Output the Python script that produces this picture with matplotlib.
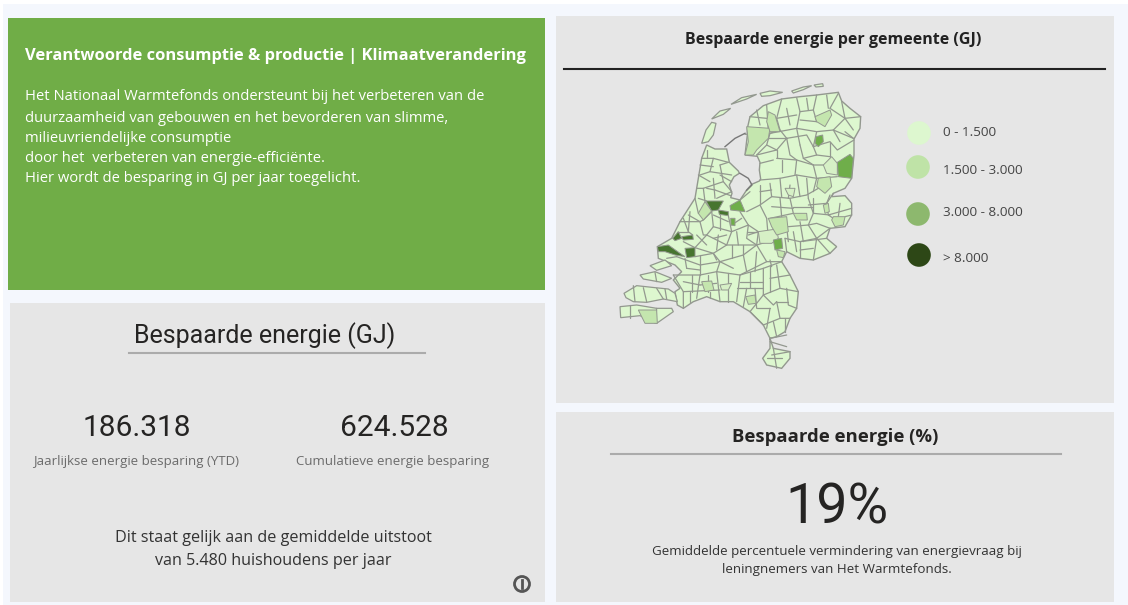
# dashboard energiebesparing - panels plus kaart per gemeente
import matplotlib
matplotlib.use("Agg")
import matplotlib.pyplot as plt
from matplotlib.patches import Polygon, Rectangle, Circle

# --- Kleuren ---
BG = "#F4F7FD"
PANEL = "#E6E6E6"
GREEN = "#70AD47"
CLASS_COLORS = ["#DDF7CF", "#BFE3A7", "#8DB86E", "#2D4716"]
MAP_MID = "#6FAE4A"
MAP_DARK = "#47752F"
MAP_SOFT = "#C4E6AE"
MAP_PALE = "#D6F0C6"
EDGE = "#93988F"

# --- Teksten en waarden ---
head_title = "Verantwoorde consumptie & productie | Klimaatverandering"
head_lines = [
    "Het Nationaal Warmtefonds ondersteunt bij het verbeteren van de",
    "duurzaamheid van gebouwen en het bevorderen van slimme,",
    "milieuvriendelijke consumptie",
    "door het  verbeteren van energie-efficiënte.",
    "Hier wordt de besparing in GJ per jaar toegelicht.",
]
kpi_values = ["186.318", "624.528"]
kpi_labels = ["Jaarlijkse energie besparing (YTD)", "Cumulatieve energie besparing"]
household_lines = ["Dit staat gelijk aan de gemiddelde uitstoot", "van 5.480 huishoudens per jaar"]
percent_value = "19%"
percent_lines = ["Gemiddelde percentuele vermindering van energievraag bij", "leningnemers van Het Warmtefonds."]
class_labels = ["0 - 1.500", "1.500 - 3.000", "3.000 - 8.000", "> 8.000"]

# --- Kaart: omtrek, eilanden, gekleurde gemeenten, grenzen ---
mainland = [
    (320,210),(345,222),(380,222),(388,262),(415,288),(418,295),(402,305),(388,330),(396,355),(392,368),
    (420,375),(440,345),(455,328),(478,318),(482,312),(478,285),(480,262),(472,244),(435,240),
    (442,180),(442,160),(450,125),(490,92),(545,72),(600,65),(650,60),(715,52),(725,78),
    (750,100),(782,125),(780,160),(762,192),(762,240),(755,310),(735,340),(700,355),(695,365),(735,362),
    (755,385),(755,420),(735,455),(690,460),(680,490),(710,515),(690,535),(640,555),(600,550),(560,530),
    (545,560),(570,600),(595,650),(590,700),(570,730),(555,770),(530,785),(510,790),(520,820),(570,830),
    (570,850),(545,880),(500,870),(488,850),(510,820),(510,790),(490,750),(450,710),(400,680),(360,680),
    (320,665),(280,680),(250,700),(232,690),(225,650),(240,640),(220,615),(245,590),(225,570),(175,550),
    (172,515),(215,490),(240,440),(285,370),(295,310),(305,250),
]
islands = [
    [(305,205),(318,165),(335,142),(348,145),(340,180),(325,200)],
    [(335,132),(360,108),(392,100),(370,118)],
    [(393,88),(425,68),(470,58),(440,72)],
    [(480,55),(510,48),(548,52),(510,62),(485,64)],
    [(575,48),(610,36),(635,32),(610,44),(580,54)],
    [(642,30),(668,26),(670,34),(648,36)],
    [(60,695),(110,690),(170,700),(215,700),(220,710),(170,745),(120,722),(62,728)],
    [(72,655),(110,632),(165,638),(205,642),(225,655),(232,680),(190,672),(140,682),(100,680),(78,668)],
    [(120,600),(165,590),(215,610),(185,622),(130,612)],
    [(150,572),(195,555),(215,572),(170,586)],
]
afsluitdijk = [(375,215),(405,190),(435,175)]
houtribdijk = [(420,295),(445,310),(456,330),(440,346)]

pale_munis = [[(670,270),(695,245),(712,265),(712,300),(680,295)],
              [(475,470),(530,462),(535,490),(515,505),(480,505)],
              [(555,340),(585,340),(580,365),(565,360)],
              [(360,630),(395,625),(385,645),(365,645)]]
soft_munis = [[(440,155),(510,160),(505,190),(470,225),(460,240),(435,240),(445,200)],
              [(505,110),(525,120),(540,170),(510,170),(500,140)],
              [(645,125),(690,105),(695,120),(675,155),(650,140)],
              [(655,310),(690,305),(695,335),(675,355),(650,335)],
              [(580,415),(620,415),(622,435),(590,435)],
              [(670,390),(685,385),(688,410),(675,415)],
              [(700,425),(735,425),(730,450),(705,455),(695,435)],
              [(505,430),(560,425),(565,470),(530,480),(515,455)],
              [(530,525),(555,530),(550,548),(535,545)],
              [(305,620),(335,618),(342,645),(315,650)],
              [(437,665),(465,660),(468,685),(445,688)],
              [(115,705),(170,705),(172,745),(135,745)],
              [(295,415),(315,380),(335,408),(310,435)]]
mid_munis = [[(712,262),(750,238),(760,250),(755,310),(715,305)],
             [(648,185),(668,180),(670,200),(655,215),(645,205)],
             [(520,495),(545,490),(548,520),(525,525)],
             [(390,392),(420,375),(435,410),(392,405)],
             [(392,430),(405,430),(405,452),(393,450)]]
dark_munis = [[(318,378),(370,378),(355,405),(335,408)],
              [(355,405),(385,410),(385,422),(358,418)],
              [(218,490),(235,470),(245,490),(225,497)],
              [(245,485),(278,480),(280,493),(250,495)],
              [(172,515),(205,510),(240,535),(255,545),(225,540),(195,530),(175,530)],
              [(255,520),(285,518),(285,545),(260,548)]]

borders = [
    [(500,90),(505,170)], [(545,72),(530,130),(540,165),(510,175)], [(590,68),(600,110),(590,160)],
    [(650,60),(640,105),(650,140)], [(715,55),(690,100)], [(725,80),(735,130),(700,165)], [(782,125),(735,130)],
    [(435,178),(510,175),(590,160),(650,170),(700,165),(760,190)], [(510,175),(500,210),(470,240)],
    [(470,240),(530,225),(560,190)], [(530,225),(530,250)], [(560,190),(620,180),(640,215)],
    [(640,215),(690,200),(712,225),(762,195)], [(600,210),(610,250),(640,270)], [(650,170),(640,215)],
    [(530,250),(590,255),(640,270),(670,270)], [(480,265),(520,255)], [(545,290),(545,255)],
    [(590,255),(585,300)], [(640,270),(650,310)], [(480,315),(540,310),(590,300),(650,310),(712,305)],
    [(510,325),(515,365)], [(480,330),(480,385)], [(420,375),(450,350)],
    [(440,410),(480,390),(515,365),(570,370),(620,360),(655,340)], [(570,330),(565,370)], [(620,310),(625,370)],
    [(700,355),(680,385),(685,420),(700,430)], [(625,370),(640,415),(690,420)], [(570,370),(580,415),(510,430)],
    [(480,390),(500,430)], [(755,420),(735,425)], [(640,415),(625,450),(650,490)], [(625,450),(565,455)],
    [(690,460),(650,490),(600,500),(555,490)], [(580,470),(590,530)], [(650,490),(640,555)], [(600,500),(680,490)],
    [(305,250),(340,250),(385,262)], [(340,250),(330,290),(300,300)], [(330,290),(395,300)],
    [(360,270),(370,320),(310,340),(290,340)], [(340,310),(345,370)], [(310,340),(315,380)], [(295,370),(320,378)],
    [(370,320),(395,350)], [(345,345),(392,362)], [(285,370),(295,415)],
    [(240,440),(300,440),(310,435),(335,410)], [(270,410),(265,470),(278,480)], [(230,470),(265,470)],
    [(335,408),(340,455),(320,480),(285,518)], [(385,422),(395,470),(380,510)],
    [(340,455),(395,470),(445,450),(475,470)], [(420,410),(445,450)], [(445,450),(440,490),(470,510)],
    [(320,480),(380,510),(470,510),(520,495)], [(285,518),(340,535),(380,510)], [(285,545),(340,535),(360,560)],
    [(230,545),(300,570),(360,560),(430,540),(470,510)], [(430,540),(440,590),(420,600)], [(360,560),(350,590)],
    [(300,570),(300,600)], [(470,510),(500,560),(545,560)], [(440,590),(500,560)],
    [(220,600),(300,600),(350,590),(420,600),(490,580),(545,560)], [(220,600),(250,650),(250,700)],
    [(300,600),(290,670)], [(350,590),(360,680)], [(420,600),(410,680)], [(490,580),(490,660),(450,710),(490,750)],
    [(530,570),(540,640),(490,660)], [(540,640),(595,650)], [(410,640),(490,640)], [(250,650),(360,645)],
    [(490,750),(540,730),(570,730)], [(530,680),(540,730)], [(510,790),(560,780)], [(515,840),(570,830)],
    [(520,820),(530,880)], [(500,850),(545,850)], [(130,638),(140,680)], [(100,632),(105,680)],
    [(170,640),(190,672)], [(170,700),(165,745)], [(165,592),(170,620)],
    # fijnere gemeentegrenzen
    [(450,125),(500,130)], [(470,105),(480,150)], [(530,130),(590,120)], [(560,100),(570,150)],
    [(600,110),(640,105)], [(620,70),(625,105)], [(600,135),(650,140)], [(690,100),(735,130)],
    [(680,60),(685,100)], [(735,130),(760,165)], [(700,165),(720,200)], [(590,160),(600,210)],
    [(540,165),(560,190)], [(505,190),(560,190)], [(640,215),(650,240)], [(690,200),(690,245)],
    [(610,250),(650,240),(690,245)], [(560,190),(570,240),(590,255)], [(500,210),(530,225)], [(760,190),(735,170)],
    [(480,350),(515,345)], [(540,310),(545,365)], [(590,300),(600,365)], [(650,310),(640,350)],
    [(640,370),(640,415)], [(690,360),(680,385)], [(625,390),(680,385)], [(720,385),(715,425)],
    [(685,420),(755,400)], [(580,395),(640,395)], [(540,368),(545,425)], [(515,395),(580,400)],
    [(560,455),(565,500)], [(600,440),(610,500)], [(625,450),(650,445),(690,460)], [(650,490),(690,535)],
    [(600,500),(600,550)], [(640,520),(600,525)], [(555,490),(560,530)], [(500,430),(505,490)],
    [(440,470),(475,470)], [(470,510),(475,470)],
    [(295,300),(330,320)], [(320,225),(320,250)], [(385,262),(360,270)], [(300,270),(340,275)],
    [(360,300),(395,320)], [(345,345),(320,340)], [(350,370),(395,350)],
    [(265,420),(300,440)], [(250,430),(265,470)], [(300,440),(310,480),(320,480)], [(340,420),(385,440)],
    [(360,420),(360,465)], [(395,450),(425,430)], [(410,470),(415,510)], [(355,480),(350,525)],
    [(290,480),(320,510)], [(250,500),(285,518)], [(340,535),(350,555)], [(395,510),(395,550)],
    [(430,510),(430,540)], [(255,550),(260,580)], [(200,550),(230,545)], [(300,540),(300,570)],
    [(340,490),(380,480)], [(445,480),(475,470)], [(260,580),(300,585)], [(360,560),(400,580)],
    [(470,530),(465,590)], [(510,555),(515,575)],
    [(250,620),(300,630)], [(275,600),(275,650)], [(325,600),(325,650)], [(300,630),(350,625)],
    [(385,595),(385,640)], [(450,590),(450,640)], [(420,620),(490,620)], [(510,570),(510,650)],
    [(510,610),(570,600)], [(270,650),(270,680)], [(330,650),(330,670)], [(385,645),(385,680)],
    [(440,640),(430,695)], [(465,640),(470,700)], [(490,660),(520,690),(530,680)], [(560,640),(565,690),(590,700)],
    [(530,680),(565,680)], [(510,700),(500,760)], [(470,700),(510,700)], [(555,730),(555,770)],
    [(520,740),(530,785)], [(510,800),(560,815)], [(195,642),(200,672)], [(90,690),(90,728)],
]


def draw_panels(ax):
    ax.add_patch(Rectangle((3, 4), 1125, 601, color=BG, lw=0))
    ax.add_patch(Rectangle((8, 18), 537, 272, color=GREEN, lw=0))
    ax.add_patch(Rectangle((10, 303), 535, 299, color=PANEL, lw=0))
    ax.add_patch(Rectangle((556, 16), 558, 387, color=PANEL, lw=0))
    ax.add_patch(Rectangle((556, 412), 558, 190, color=PANEL, lw=0))


def draw_texts(ax):
    ax.text(25, 56, head_title, color="white", fontsize=11.85, fontweight="bold",
            family="Open Sans", va="center")
    for y, line in zip([97, 118, 138, 158, 179], head_lines):
        ax.text(25, y, line, color="white", fontsize=10.6, family="Open Sans", va="center")

    ax.text(833, 40, "Bespaarde energie per gemeente (GJ)", color="#222222", fontsize=11.5,
            fontweight="bold", family="Open Sans", ha="center", va="center")
    ax.plot([564, 1105], [69, 69], color="#222222", lw=1.5)

    ax.text(265, 336, "Bespaarde energie (GJ)", color="#252423", fontsize=18, family="Roboto",
            ha="center", va="center")
    ax.plot([129, 425], [353, 353], color="#ABABAB", lw=1.5)
    for x, val, lab in zip([137, 394], kpi_values, kpi_labels):
        ax.text(x, 428, val, color="#252423", fontsize=21.5, family="Roboto", ha="center", va="center")
        ax.text(x - 1, 462, lab, color="#6B6B6B", fontsize=9.55, family="Open Sans", ha="center", va="center")
    for y, line in zip([538, 561], household_lines):
        ax.text(273, y, line, color="#333333", fontsize=11.65, family="Open Sans", ha="center", va="center")

    # info icoon
    ax.add_patch(Circle((522, 584), 7.5, fc="none", ec="#555555", lw=2))
    ax.plot([522, 522], [580, 588], color="#555555", lw=2)

    ax.text(835, 437, "Bespaarde energie (%)", color="#252423", fontsize=13.3, fontweight="bold",
            family="Open Sans", ha="center", va="center")
    ax.plot([611, 1061], [454, 454], color="#ABABAB", lw=1.5)
    ax.text(837, 508, percent_value, color="#252423", fontsize=40, family="Roboto", ha="center", va="center")
    for y, line in zip([551, 569], percent_lines):
        ax.text(837, y, line, color="#333333", fontsize=9.6, family="Open Sans", ha="center", va="center")

    # legenda
    for cx, cy, ty, col, lab in zip([919, 918, 918, 919], [133, 167, 214, 255], [132, 171, 213, 258],
                                    CLASS_COLORS, class_labels):
        ax.add_patch(Circle((cx, cy), 11.8, color=col, lw=0))
        ax.text(943, ty, lab, color="#444444", fontsize=9.7, family="Open Sans", va="center")


def draw_map(ax):
    land = Polygon(mainland, closed=True, fc=CLASS_COLORS[0], ec=EDGE, lw=1)
    ax.add_patch(land)
    for poly in islands:
        ax.add_patch(Polygon(poly, closed=True, fc=CLASS_COLORS[0], ec=EDGE, lw=0.9))
    groups = [(pale_munis, MAP_PALE), (soft_munis, MAP_SOFT), (mid_munis, MAP_MID), (dark_munis, MAP_DARK)]
    for line in borders:
        xs, ys = zip(*line)
        ax.plot(xs, ys, color=EDGE, lw=0.9, solid_capstyle="round", zorder=2)
    for polys, col in groups:
        for poly in polys:
            ax.add_patch(Polygon(poly, closed=True, fc=col, ec=EDGE, lw=0.7, zorder=3))
    for line in [afsluitdijk, houtribdijk]:
        xs, ys = zip(*line)
        ax.plot(xs, ys, color="#777777", lw=1)


fig = plt.figure(figsize=(11.28, 6.05), dpi=100, facecolor="white")
base = fig.add_axes([0, 0, 1, 1])
base.set_xlim(0, 1128)
base.set_ylim(605, 0)
base.axis("off")
draw_panels(base)
draw_texts(base)

# kaart staat op pixel (600,75) met 270x300
map_ax = fig.add_axes([600 / 1128, 1 - 375 / 605, 270 / 1128, 300 / 605])
map_ax.set_xlim(0, 810)
map_ax.set_ylim(900, 0)
map_ax.axis("off")
draw_map(map_ax)

fig.savefig("out.png", dpi=100)
